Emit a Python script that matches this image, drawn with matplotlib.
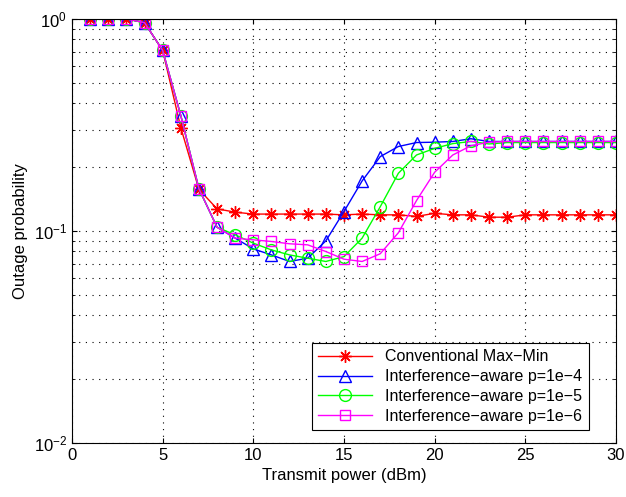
import matplotlib.pyplot as plt
from matplotlib.ticker import LogLocator, NullFormatter

plt.rcParams['font.family'] = ['Liberation Sans', 'DejaVu Sans']

# Transmit power (dBm)
power = list(range(1, 31))

# Outage probability
conv = [1.0, 1.0, 1.0, 0.96, 0.71, 0.307, 0.157, 0.127, 0.1225, 0.120,
        0.120, 0.120, 0.120, 0.120, 0.119, 0.120, 0.119, 0.119, 0.117, 0.121,
        0.119, 0.119, 0.116, 0.116, 0.119, 0.119, 0.119, 0.119, 0.119, 0.119]
p1e4 = [1.0, 1.0, 1.0, 0.96, 0.71, 0.35, 0.158, 0.104, 0.0924, 0.0822,
        0.077, 0.0717, 0.0743, 0.0897, 0.1234, 0.172, 0.224, 0.25, 0.261, 0.262,
        0.264, 0.272, 0.264, 0.264, 0.264, 0.264, 0.264, 0.264, 0.264, 0.264]
p1e5 = [1.0, 1.0, 1.0, 0.96, 0.71, 0.35, 0.158, 0.104, 0.0958, 0.0875,
        0.0813, 0.077, 0.0743, 0.0717, 0.0756, 0.0924, 0.130, 0.187, 0.228, 0.245,
        0.258, 0.264, 0.257, 0.261, 0.261, 0.261, 0.261, 0.261, 0.261, 0.261]
p1e6 = [1.0, 1.0, 1.0, 0.96, 0.71, 0.35, 0.158, 0.104, 0.0924, 0.0907,
        0.0891, 0.0869, 0.0859, 0.0799, 0.0735, 0.0717, 0.078, 0.098, 0.139, 0.189,
        0.228, 0.252, 0.262, 0.264, 0.264, 0.264, 0.264, 0.264, 0.264, 0.264]

fig = plt.figure(figsize=(6.26, 4.97), dpi=100)
ax = fig.add_axes([0.115, 0.109, 0.869, 0.853])

# MATLAB-like asterisk marker
ax.semilogy(power, conv, color='#ff0000', marker=(8, 2, 0), ms=9, mew=1, lw=1,
            label='Conventional Max\u2212Min')
ax.semilogy(power, p1e4, color='#0000ff', marker='^', ms=9, mfc='none', lw=1,
            label='Interference\u2212aware p=1e\u22124')
ax.semilogy(power, p1e5, color='#00ff00', marker='o', ms=8.5, mfc='none', lw=1,
            label='Interference\u2212aware p=1e\u22125')
ax.semilogy(power, p1e6, color='#ff00ff', marker='s', ms=7.5, mfc='none', lw=1,
            label='Interference\u2212aware p=1e\u22126')

ax.set_xlim(0, 30)
ax.set_ylim(1e-2, 1)
ax.set_xticks([0, 5, 10, 15, 20, 25, 30])
ax.yaxis.set_minor_locator(LogLocator(base=10, subs=range(2, 10)))
ax.yaxis.set_minor_formatter(NullFormatter())

ax.grid(True, which='major', color='black', linestyle=(0, (1, 5)), lw=0.8)
ax.grid(True, which='minor', axis='y', color='black', linestyle=(0, (1, 5)), lw=0.8)
ax.tick_params(which='both', direction='in', top=True, right=True, labelsize=12)
for s in ax.spines.values():
    s.set_linewidth(0.8)

ax.set_xlabel('Transmit power (dBm)', fontsize=12)
ax.set_ylabel('Outage probability', fontsize=12)

leg = ax.legend(loc='lower right', bbox_to_anchor=(0.95, 0.03), borderaxespad=0,
                fontsize=11.5, fancybox=False, edgecolor='black', framealpha=1,
                handlelength=3.4, labelspacing=0.3)
leg.get_frame().set_linewidth(0.8)

plt.savefig('out.png', dpi=100)
